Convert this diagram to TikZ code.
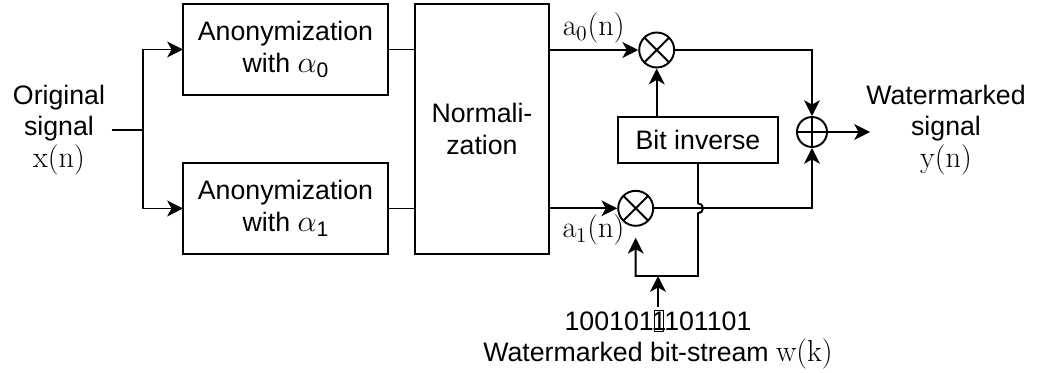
\documentclass[tikz,border=0pt]{standalone}
\usepackage[no-math]{fontspec}
\setmainfont{Liberation Sans}
\usetikzlibrary{arrows.meta,positioning,calc}
\newcommand{\sigtext}[1]{{\fontsize{17.6}{18}\selectfont$#1$}}
\newcommand{\alphasub}[1]{{\fontsize{17.6}{18}\selectfont$\alpha$}\raisebox{-2.8pt}{\fontsize{12}{12}\selectfont #1}}

\begin{document}
\begin{tikzpicture}[
    x=0.02cm, y=0.02cm,
    font=\fontsize{15.2}{18}\selectfont,
    line width=1.1pt,
    box/.style={draw, minimum width=4.1cm, minimum height=1.82cm,
                align=center, inner sep=0pt, outer sep=0pt},
    mulnode/.style={draw, circle, minimum size=0.7cm, inner sep=0pt,
                path picture={\draw (path picture bounding box.north west) -- (path picture bounding box.south east)
                                    (path picture bounding box.north east) -- (path picture bounding box.south west);}},
    addnode/.style={draw, circle, minimum size=0.6cm, inner sep=0pt,
                path picture={\draw (path picture bounding box.north) -- (path picture bounding box.south)
                                    (path picture bounding box.west) -- (path picture bounding box.east);}},
    arr/.style={-{Stealth[length=9pt, width=9pt, inset=2.5pt]}},
    node distance=1.36cm and 0.54cm
  ]
    \useasboundingbox (0,0) rectangle (1040,-372);
    \node[box] (a0) at (285.5,-49.5) {Anonymization\\with \alphasub{0}};
    \node[box, below=of a0] (a1) {Anonymization\\with \alphasub{1}};
    \node[box, minimum width=2.68cm, minimum height=5cm,
          right=0.54cm of a0.north east, anchor=north west] (norm) {Normali-\\zation};
    \node[mulnode] (m0) at (656.7,-50) {};
    \node[mulnode] (m1) at (635.7,-208.3) {};
    \node[addnode] (add) at (812,-132) {};
    \node[box, minimum width=3.2cm, minimum height=0.92cm] (binv) at (698,-140) {Bit inverse};
    \node[align=center] (orig) at (59,-130) {Original\\signal\\\sigtext{\mathrm{x}(\mathrm{n})}};
    \node[align=center] (wm) at (946,-130) {Watermarked\\signal\\\sigtext{\mathrm{y}(\mathrm{n})}};
    \node[align=center, anchor=north, inner sep=1pt] (bits) at (658,-307)
      {100101{\setlength{\fboxsep}{0.6pt}\setlength{\fboxrule}{0.6pt}\fbox{\makebox[3.6pt]{1}}}101101\\
       Watermarked bit-stream \sigtext{\mathrm{w}(\mathrm{k})}};
    \coordinate (split) at (143,-130);
    \coordinate (wsplit) at (658,-276);
    \coordinate (out) at (870,-132);
    \draw (orig) -- (split);
    \draw[arr] (split) |- (a0);
    \draw[arr] (split) |- (a1);
    \draw (a0) -- (norm.west |- a0);
    \draw (a1) -- (norm.west |- a1);
    \draw[arr] (norm.east |- m0) -- node[above] (lab0) {\sigtext{\mathrm{a}_0(\mathrm{n})}} (m0);
    \draw[arr] (norm.east |- m1) -- node[below, pos=0.65] (lab1) {\sigtext{\mathrm{a}_1(\mathrm{n})}} (m1);
    \draw[arr] (binv.north -| m0) -- (m0);
    \draw[arr] (m0) -| (add);
    \draw[arr] (m1) -| (add);
    \draw[arr] (add) -- (out);
    \draw[arr, shorten >=0.22cm] (binv.south) -- ($(binv.south |- m1)+(0,5)$)
      arc[start angle=90, end angle=-90, radius=0.1cm]
      -- (binv.south |- wsplit) -- (wsplit -| m1) -- (m1);
    \draw[arr] (bits.north) -- (wsplit);
  \end{tikzpicture}
\end{document}
